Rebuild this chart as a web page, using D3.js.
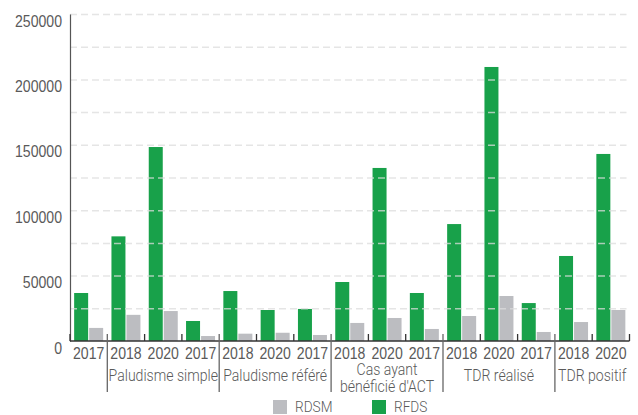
<!DOCTYPE html>
<html>
<head>
<meta charset="utf-8">
<script src="https://cdn.jsdelivr.net/npm/d3@7"></script>
<style>
  html, body { margin: 0; padding: 0; background: #fff; }
  svg { display: block; font-family: Roboto, "Noto Sans", sans-serif; }
</style>
</head>
<body>
<svg id="chart" width="638" height="415"></svg>
<script>
// ---- data ----
const years = ["2017","2018","2020","2017","2018","2020","2017","2018","2020","2017","2018","2020","2017","2018","2020"];
const groups = [["Paludisme simple"], ["Paludisme référé"], ["Cas ayant", "bénéficié d'ACT"], ["TDR réalisé"], ["TDR positif"]];
const rfds = [36700, 80000, 148300, 15300, 38200, 23700, 24500, 45100, 132300, 36700, 89400, 209500, 29000, 65000, 143000];
const rdsm = [10000, 20000, 22900, 3800, 5600, 6300, 4600, 13800, 17600, 9200, 19100, 34400, 6900, 14500, 23700];
const yTicks = [0, 50000, 100000, 150000, 200000, 250000];
const gridTicks = [25000, 50000, 75000, 100000, 125000, 150000, 175000, 200000, 225000, 250000];
const seriesNames = ["RDSM", "RFDS"];
const seriesColors = {RDSM: "#bcbdc1", RFDS: "#18a14a"};

// ---- layout ----
const svg = d3.select("#chart");
const mLeft = 70, mRight = 629.5, mTop = 14, mBottom = 341;
const SX = 0.88;
const textColor = "#5a5a5a";

const x = d3.scaleBand().domain(d3.range(years.length)).range([mLeft, mRight]).paddingInner(0).paddingOuter(0);
const y = d3.scaleLinear().domain([0, 250000]).range([mBottom, mTop]);
const bw = x.bandwidth();
const barW = 14, gap = 1;
const pad = (bw - 2 * barW - gap) / 2;

function cText(sel, tx, ty, anchor, size) {
  return sel.append("text")
    .attr("transform", `translate(${tx},${ty}) scale(${SX},1)`)
    .attr("text-anchor", anchor)
    .attr("font-size", size || 16)
    .attr("font-weight", 300)
    .attr("fill", textColor);
}

// bars
const g = svg.append("g");
g.selectAll("rect.rfds").data(rfds).join("rect")
  .attr("class", "rfds")
  .attr("x", (d, i) => x(i) + pad)
  .attr("y", d => y(d))
  .attr("width", barW)
  .attr("height", d => y(0) - y(d))
  .attr("fill", seriesColors.RFDS);
g.selectAll("rect.rdsm").data(rdsm).join("rect")
  .attr("class", "rdsm")
  .attr("x", (d, i) => x(i) + pad + barW + gap)
  .attr("y", d => y(d))
  .attr("width", barW)
  .attr("height", d => y(0) - y(d))
  .attr("fill", seriesColors.RDSM);

// gridlines (on top, translucent)
const grid = svg.append("g")
  .attr("transform", `translate(${mLeft},0)`)
  .call(d3.axisLeft(y).tickValues(gridTicks).tickSize(-(mRight - mLeft - 3)).tickFormat(""));
grid.select(".domain").remove();
grid.selectAll(".tick line")
  .attr("stroke", "#dcdcdc")
  .attr("stroke-opacity", 0.75)
  .attr("stroke-width", 1.5)
  .attr("stroke-dasharray", "7,4");

// y axis
const yAx = svg.append("g")
  .attr("transform", `translate(${mLeft},0)`)
  .call(d3.axisLeft(y).tickValues(yTicks).tickSize(0).tickFormat(""));
yAx.select(".domain").attr("stroke", "#555").attr("stroke-width", 1.2);
yAx.selectAll(".tick").each(function(d) {
  cText(d3.select(this), -8, 12, "end").text(d3.format("d")(d));
});

// x axis
const xAx = svg.append("g")
  .attr("transform", `translate(0,${mBottom})`)
  .call(d3.axisBottom(x).tickSize(0).tickFormat(""));
xAx.select(".domain").attr("stroke", "#333").attr("stroke-width", 1.5).attr("d", `M${mLeft},0H${mRight}`);
xAx.selectAll(".tick").each(function(d) {
  cText(d3.select(this), 0, 18, "middle").text(years[d]);
});

// category boundary ticks
const bounds = d3.range(years.length + 1).map(i => i < years.length ? x(i) : mRight);
svg.append("g").selectAll("line").data(bounds).join("line")
  .attr("x1", d => d).attr("x2", d => d)
  .attr("y1", mBottom - 7)
  .attr("y2", (d, i) => (i % 3 === 1) ? 392 : mBottom)
  .attr("stroke", (d, i) => (i % 3 === 1) ? "#666" : "#333")
  .attr("stroke-width", 1.3);

// group labels
groups.forEach((lines, gi) => {
  const s = gi * 3 + 1;
  const e = Math.min(s + 3, years.length);
  const x0 = x(s);
  const x1 = e < years.length ? x(e) : mRight;
  const cx = (x0 + x1) / 2;
  const baseY = lines.length === 1 ? 381 : 375;
  lines.forEach((ln, li) => {
    cText(svg, cx, baseY + li * 16.5, "middle").text(ln);
  });
});

// legend
const legItems = [{name: "RDSM", x: 273}, {name: "RFDS", x: 372}];
const leg = svg.append("g");
legItems.forEach(it => {
  leg.append("rect").attr("x", it.x).attr("y", 400).attr("width", 14).attr("height", 14)
    .attr("fill", seriesColors[it.name]);
  cText(leg, it.x + 22, 411.5, "start", 15.5).text(it.name);
});
</script>
</body>
</html>
